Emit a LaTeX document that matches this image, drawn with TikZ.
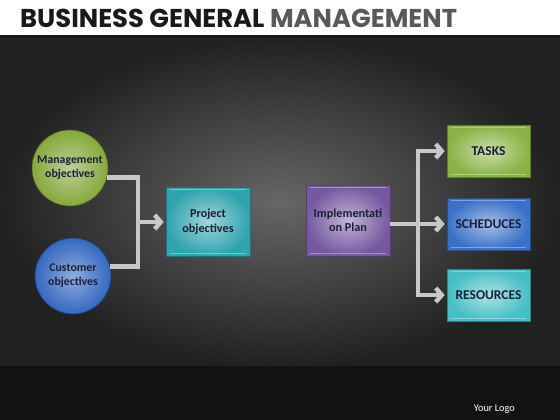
\documentclass[tikz,border=0pt]{standalone}
\usepackage{fontspec}
\setmainfont{Carlito}
\newfontfamily\titlefont{Poppins}
\usetikzlibrary{arrows.meta}
\definecolor{navy}{HTML}{1A1F3A}
\definecolor{conn}{HTML}{C8C8C8}
\definecolor{cgreen}{HTML}{86A83C}
\definecolor{cblue}{HTML}{3468C0}
\definecolor{cteal}{HTML}{2FA3AE}
\definecolor{cpurple}{HTML}{7558A0}
\definecolor{cgreenb}{HTML}{8AB244}
\definecolor{cblueb}{HTML}{3A70C8}
\definecolor{ctealb}{HTML}{45BEC4}
\tikzset{
  ball/.style={circle, minimum size=76pt, inner sep=0pt, draw=#1!60!black, line width=0.6pt,
    inner color=#1!55!white, outer color=#1, text=navy, font=\bfseries\fontsize{11.8}{14}\selectfont, align=center},
  card/.style={rectangle, minimum width=84pt, inner sep=0pt, draw=#1!70!black, line width=0.6pt,
    inner color=#1!45!white, outer color=#1, text=navy, font=\bfseries\fontsize{12.2}{14.5}\selectfont, align=center},
  bigtext/.style={font=\bfseries\fontsize{13.5}{16}\selectfont},
  link/.style={draw=conn, line width=4.5pt},
  arr/.style={link, -{Straight Barb[length=6pt,width=14pt]}, shorten >=2pt}
}
\begin{document}
\begin{tikzpicture}[x=1pt,y=-1pt]
\useasboundingbox (0,0) rectangle (560,420);
% backgrounds
\fill[white] (0,0) rectangle (560,37);
\shade[inner color=black!60, outer color=black!87] (0,38) rectangle (560,366);
\fill[black!93] (0,366) rectangle (560,420);
\fill[black!90] (0,35.5) rectangle (560,38.5);
\node[anchor=base west, inner sep=0pt, font=\titlefont\bfseries\fontsize{25.8}{30}\selectfont] (title) at (20,28)
  {\textcolor{black!90}{BUSINESS GENERAL} \textcolor{black!65}{MANAGEMENT}};
\node[anchor=base east, inner sep=0pt, text=white, font=\fontsize{10.3}{12}\selectfont] (logo) at (515,411) {Your Logo};
% nodes
\node[ball=cgreen] (mgmt) at (70,168) {Management\\objectives};
\node[ball=cblue] (cust) at (73,276) {Customer\\objectives};
\node[card=cteal, minimum height=69pt] (proj) at (208,221.5) {Project\\objectives};
\node[card=cpurple, minimum height=71pt] (impl) at (348,220.5) {Implementati\\on Plan};
\node[card=cgreenb, bigtext, minimum width=83pt, minimum height=52pt] (tasks) at (488.5,151) {TASKS};
\node[card=cblueb, bigtext, minimum width=83pt, minimum height=52pt] (sched) at (488.5,224) {SCHEDUCES};
\node[card=ctealb, bigtext, minimum width=83pt, minimum height=52pt] (res) at (488.5,295) {RESOURCES};
% glass bands
\foreach \n in {proj,impl,tasks,sched,res}{
  \draw[white, opacity=0.35, line width=1pt] ([xshift=4pt,yshift=-3pt]\n.north west) -- ([xshift=-4pt,yshift=-3pt]\n.north east);
  \draw[white, opacity=0.35, line width=1pt] ([xshift=4pt,yshift=3pt]\n.south west) -- ([xshift=-4pt,yshift=3pt]\n.south east);
}
% connectors
\coordinate (jl) at (138,222);
\coordinate (jr) at (418,224);
\draw[link, line join=miter] (mgmt.-14) -| (jl) |- (cust.14);
\draw[arr] (jl) -- (jl -| proj.west);
\draw[link] (jr |- tasks.west) -- (jr |- res.west);
\draw[arr] (impl.east |- sched.west) -- (sched.west);
\draw[arr] ([xshift=-2.25pt]jr |- tasks.west) -- (tasks.west);
\draw[arr] ([xshift=-2.25pt]jr |- res.west) -- (res.west);
\end{tikzpicture}
\end{document}
